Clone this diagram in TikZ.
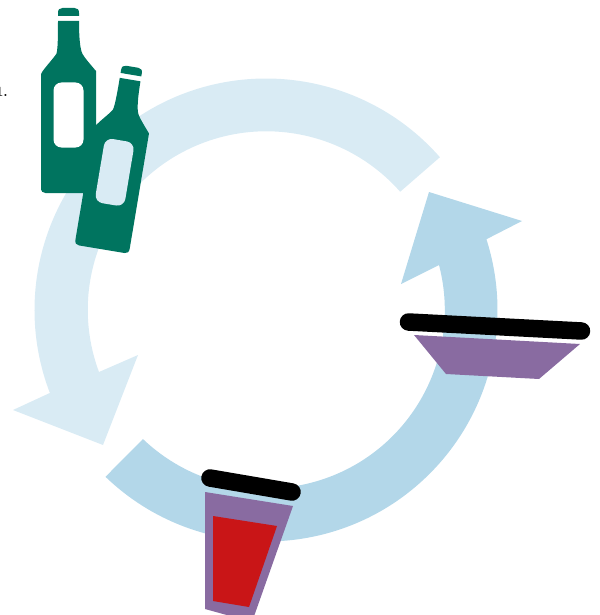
\documentclass[tikz,border=0pt]{standalone}
\usepackage{xcolor}
\definecolor{ringpale}{HTML}{D9EBF4}
\definecolor{ringblue}{HTML}{B3D7E9}
\definecolor{glasspurple}{HTML}{896BA1}
\definecolor{winered}{HTML}{C91517}
\definecolor{bottlegreen}{HTML}{00745F}
\tikzset{
    lid/.style={line width=17.5pt, line cap=round, black},
    bottle/.pic={
        % cap
        \fill[bottlegreen] (-10.5,-84.5) -- (-10.5,-87.5) .. controls (-10.5,-91) and (-9,-92.5) .. (-6,-92.5) -- (6,-92.5) .. controls (9,-92.5) and (10.5,-91) .. (10.5,-87.5) -- (10.5,-84.5) -- cycle;
        % body
        \fill[bottlegreen] (-10.5,-79.5) -- (10.5,-79.5) .. controls (10.5,-68) and (11,-56) .. (13,-49) .. controls (14,-46) and (15,-44) .. (27.5,-29.5) -- (27.5,87) .. controls (27.5,91) and (26,92.5) .. (23,92.5) -- (-23,92.5) .. controls (-26,92.5) and (-27.5,91) .. (-27.5,87) -- (-27.5,-26) .. controls (-27.5,-29) and (-14,-43) .. (-12,-47) .. controls (-10.5,-52) and (-10.5,-68) .. (-10.5,-79.5) -- cycle;
        % label
        \fill[#1, rounded corners=8pt] (-15,-18) rectangle (15,47);
    }
}
\begin{document}
\begin{tikzpicture}[x=1pt, y=-1pt]
    \clip (0,0) rectangle (599,615);
    \coordinate (hub) at (266,310);
    % pale arrow
    \fill[ringpale] ([shift={(-41.3:231.5)}]hub) arc[start angle=-41.3, end angle=-201, radius=231.5]
        -- (13,410) -- (103,445) -- (138,355) -- (99,372)
        arc[start angle=-200.4, end angle=-41.4, radius=178.5] -- cycle;
    % blue arrow
    \fill[ringblue] ([shift={(-226.1:231.5)}]hub) arc[start angle=-226.1, end angle=-377.8, radius=231.5]
        -- (522,221) -- (429,192) -- (401,284) -- (439,265)
        arc[start angle=-374.6, end angle=-226.3, radius=178.5] -- cycle;
    % bottles
    \pic at (68.5,100.5) {bottle=white};
    \pic[rotate=-9.5] at (117,158) {bottle=ringpale};
    % right glass
    \fill[glasspurple] (414,335) -- (580,344) -- (539,379) -- (446,374) -- cycle;
    \draw[lid] (408.5,322) -- (581.5,331);
    % bottom glass
    \fill[glasspurple] (205,492) -- (293,506) -- (252,622) -- (205,609) -- cycle;
    \fill[winered] (213,516) -- (277,526) -- (249,607) -- (213,601) -- cycle;
    \draw[lid] (210,478) -- (292,492);
    % cut off text at the edge
    \node[anchor=base east, font=\fontsize{14}{16}\selectfont\bfseries, inner sep=0pt] (note) at (8,96.5) {1.};
\end{tikzpicture}
\end{document}
